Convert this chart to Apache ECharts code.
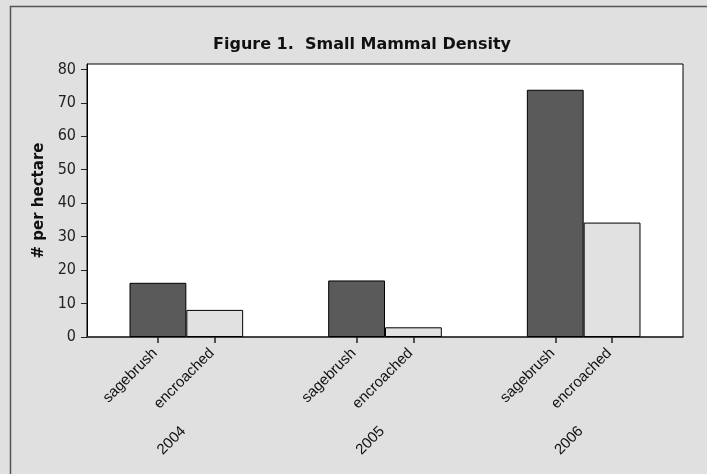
<!DOCTYPE html>
<html>
<head>
<meta charset="utf-8">
<script src="https://cdn.jsdelivr.net/npm/echarts@6/dist/echarts.min.js"></script>
<style>
	html, body { margin: 0; padding: 0; background: #e0e0e0; }
	#chart { width: 707px; height: 474px; }
</style>
</head>
<body>
<div id="chart"></div>
<script>
var years = ['2004', '2005', '2006'];
var barNames = ['sagebrush', 'encroached'];
var sagebrush = [16.2, 16.9, 73.9];
var encroached = [8.1, 2.9, 34.2];
var yTicks = [0, 10, 20, 30, 40, 50, 60, 70, 80];

function draw_density(idname) {
	let mychart = echarts.init(document.getElementById(idname));

	// bars take this share of each year's band, split between the two series
	var gap = 0.428;
	var half = (1 - gap) / 4;
	var barTicks = [];
	for (var i = 0; i < years.length; i++) {
		barTicks.push(i + 0.5 - half);
		barTicks.push(i + 0.5 + half);
	}

	let option = {
		backgroundColor: '#e0e0e0',
		animation: false,
		title: {
			text: 'Figure 1.  Small Mammal Density',
			left: 357,
			top: 32,
			textAlign: 'center',
			textStyle: {
				fontFamily: 'DejaVu Sans',
				fontWeight: 'bold',
				fontSize: 16,
				color: '#111'
			}
		},
		graphic: [{
			type: 'polyline',
			shape: { points: [[10.5, 480], [10.5, 6.5], [720, 6.5]] },
			style: { stroke: '#555', lineWidth: 1.5, fill: null },
			silent: true
		}],
		grid: {
			left: 87,
			right: 24,
			top: 64,
			bottom: 137,
			show: true,
			backgroundColor: '#fff',
			borderColor: '#000',
			borderWidth: 1
		},
		xAxis: [{
			type: 'category',
			data: years,
			position: 'bottom',
			axisLine: { show: true, lineStyle: { color: '#333', width: 1.5 } },
			axisTick: { show: false },
			axisLabel: {
				rotate: 45,
				margin: 89,
				fontFamily: 'Liberation Sans',
				fontSize: 15,
				color: '#111',
				padding: [0, 4, 0, 0]
			}
		}, {
			type: 'value',
			min: 0,
			max: years.length,
			position: 'bottom',
			axisLine: { show: false },
			splitLine: { show: false },
			axisTick: {
				show: true,
				customValues: barTicks,
				length: 6,
				lineStyle: { color: '#222', width: 1.5 }
			},
			axisLabel: {
				customValues: barTicks,
				rotate: 45,
				margin: 11,
				fontFamily: 'Liberation Sans',
				fontSize: 15,
				color: '#111',
				padding: [0, 4, 0, 0],
				formatter: function(v) {
					return (v % 1) < 0.5 ? barNames[0] : barNames[1];
				}
			}
		}],
		yAxis: {
			type: 'value',
			min: 0,
			max: 81.6,
			name: '# per hectare',
			nameLocation: 'middle',
			nameGap: 40,
			nameTextStyle: {
				fontFamily: 'DejaVu Sans',
				fontWeight: 'bold',
				fontSize: 15,
				color: '#111'
			},
			axisLine: { show: true, lineStyle: { color: '#000' } },
			axisTick: {
				show: true,
				customValues: yTicks,
				length: 6,
				lineStyle: { color: '#222' }
			},
			axisLabel: {
				customValues: yTicks,
				margin: 11,
				fontFamily: 'DejaVu Sans Condensed',
				fontSize: 16,
				color: '#222'
			},
			splitLine: { show: false }
		},
		series: [{
			name: barNames[0],
			type: 'bar',
			xAxisIndex: 0,
			data: sagebrush,
			barGap: '0%',
			barCategoryGap: (gap * 100) + '%',
			itemStyle: { color: '#5a5a5a', borderColor: '#000', borderWidth: 1 }
		}, {
			name: barNames[1],
			type: 'bar',
			xAxisIndex: 0,
			data: encroached,
			barGap: '0%',
			barCategoryGap: (gap * 100) + '%',
			itemStyle: { color: '#e1e1e1', borderColor: '#000', borderWidth: 1 }
		}]
	};

	mychart.setOption(option);
}

draw_density('chart');
</script>
</body>
</html>
